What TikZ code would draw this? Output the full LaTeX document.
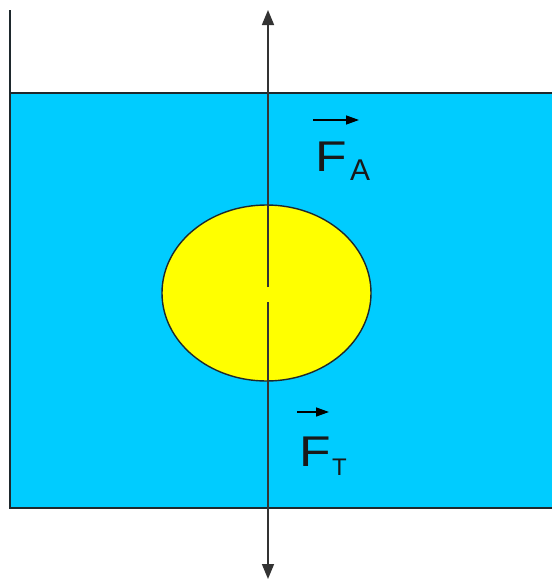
\documentclass[tikz,border=0pt]{standalone}
\usepackage{fontspec}
\setmainfont{Liberation Sans}
\usetikzlibrary{arrows.meta,shapes.geometric}
\definecolor{water}{RGB}{0,204,255}
\definecolor{ballc}{RGB}{255,255,0}
\definecolor{edge}{RGB}{30,40,45}
\tikzset{
  wall/.style={draw=edge, line width=1.8pt},
  force/.style={draw=black!80, line width=1.6pt, -{Triangle[width=12pt,length=15pt]}},
  vec/.style={draw=black, line width=1.4pt, -{Triangle[width=9pt,length=13pt]}},
  lbl/.style={anchor=base west, inner sep=0pt, text=black!90}
}
\begin{document}
\begin{tikzpicture}[x=1pt,y=-1pt]
\useasboundingbox (0,0) rectangle (552,579);
\fill[white] (0,0) rectangle (552,579);
% water
\fill[water] (10,93) rectangle (553,508);
\draw[wall] (553,93) -- (10,93);
\draw[wall] (10,508) -- (553,508);
\draw[wall] (10,10) -- (10,508.9);
% ball
\node[ellipse, draw=edge, line width=1.4pt, fill=ballc, minimum width=209pt, minimum height=176pt, inner sep=0pt] (ball) at (266.5,293) {};
% force arrows
\coordinate (c1) at (268,287);
\coordinate (c2) at (268,302);
\coordinate (top) at (268,10);
\coordinate (bot) at (268,579);
\draw[force] (c1) -- (top);
\draw[force] (c2) -- (bot);
% labels
\coordinate (va1) at (313,120);
\coordinate (va2) at (359,120);
\draw[vec] (va1) -- (va2);
\node[lbl] (fa) at (315.5,171) {\fontsize{43}{43}\selectfont\scalebox{1.2}[1]{F}\hspace{3pt}\raisebox{-9pt}{\fontsize{30}{30}\selectfont A}};
\coordinate (vt1) at (297,412);
\coordinate (vt2) at (329,412);
\draw[vec] (vt1) -- (vt2);
\node[lbl] (ft) at (299.5,466) {\fontsize{43}{43}\selectfont\scalebox{1.2}[1]{F}\hspace{1pt}\raisebox{-9pt}{\fontsize{24}{24}\selectfont T}};
\end{tikzpicture}
\end{document}
